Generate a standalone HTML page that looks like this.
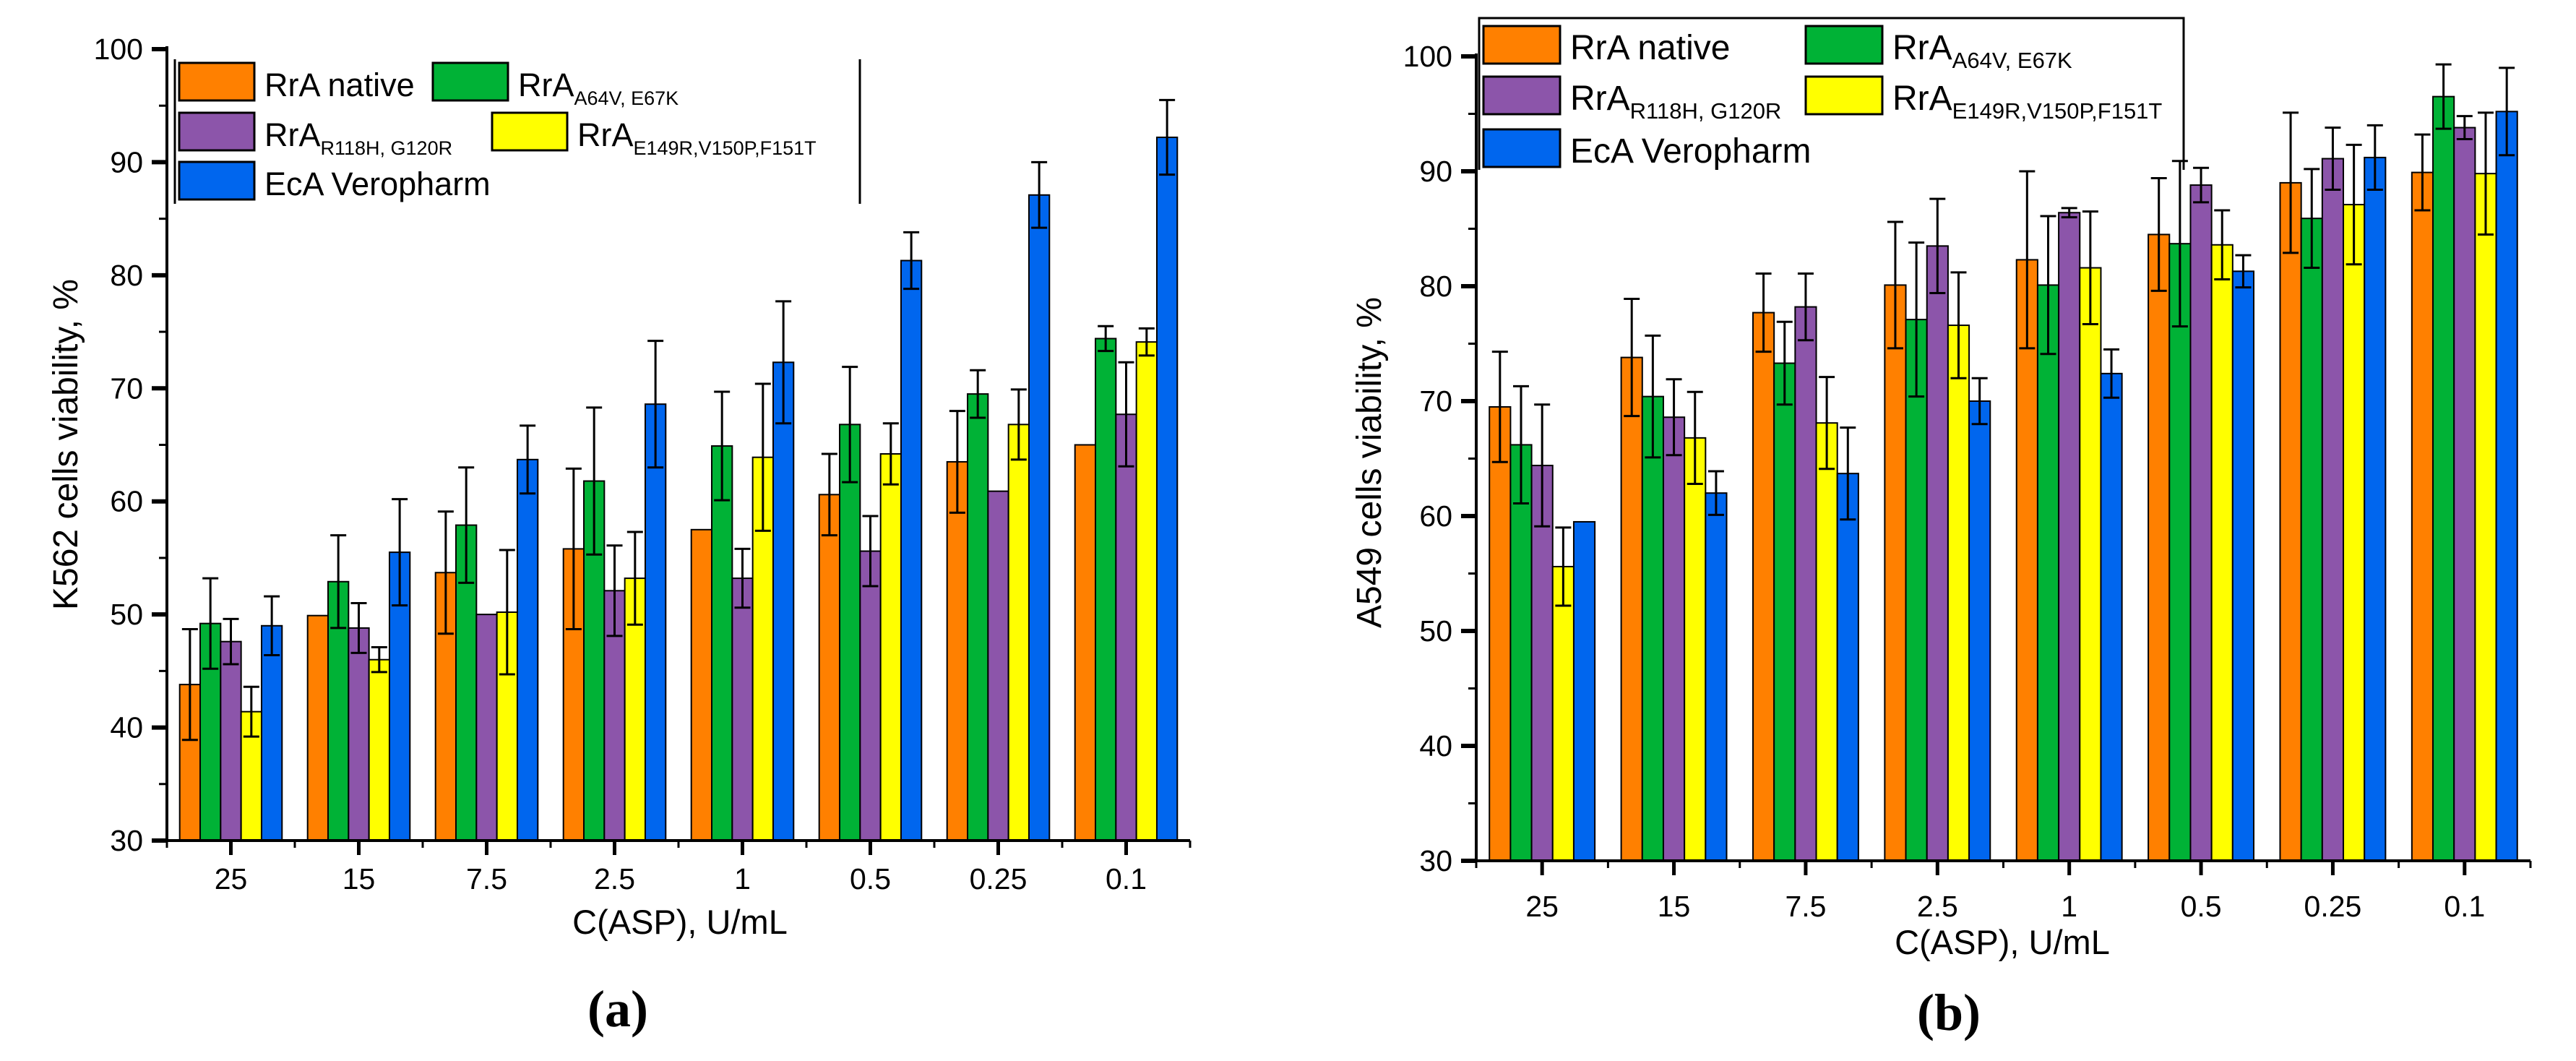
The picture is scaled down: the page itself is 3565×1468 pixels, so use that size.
<!DOCTYPE html>
<html><head><meta charset="utf-8">
<style>
html,body{margin:0;padding:0;background:#fff;}
svg{display:block;font-family:"Liberation Sans",Arial,sans-serif;}
</style></head>
<body>
<svg id="fig" width="3565" height="1468" viewBox="0 0 3565 1468" xmlns="http://www.w3.org/2000/svg"></svg>
<script>
const categories = ["25","15","7.5","2.5","1","0.5","0.25","0.1"];
const seriesNames = ["RrA native","RrA A64V, E67K","RrA R118H, G120R","RrA E149R,V150P,F151T","EcA Veropharm"];
const seriesColors = ["#ff8000","#00b236","#8c55aa","#ffff00","#0066ee"];
const yTicks = [30,40,50,60,70,80,90,100];

// Panel (a) K562
const aOrange = [43.8,49.9,53.7,55.8,57.5,60.6,63.5,65.0];
const aGreen  = [49.2,52.9,57.9,61.8,64.9,66.8,69.5,74.4];
const aPurple = [47.6,48.8,50.0,52.1,53.2,55.6,60.9,67.7];
const aYellow = [41.4,46.0,50.2,53.2,63.9,64.2,66.8,74.1];
const aBlue   = [49.0,55.5,63.7,68.6,72.3,81.3,87.1,92.2];
const aErrOrange = [4.9,0,5.4,7.1,0,3.6,4.5,0];
const aErrGreen  = [4.0,4.1,5.1,6.5,4.8,5.1,2.1,1.1];
const aErrPurple = [2.0,2.2,0,4.0,2.6,3.1,0,4.6];
const aErrYellow = [2.2,1.1,5.5,4.1,6.5,2.7,3.1,1.2];
const aErrBlue   = [2.6,4.7,3.0,5.6,5.4,2.5,2.9,3.3];

// Panel (b) A549
const bOrange = [69.5,73.8,77.7,80.1,82.3,84.5,89.0,89.9];
const bGreen  = [66.2,70.4,73.3,77.1,80.1,83.7,85.9,96.5];
const bPurple = [64.4,68.6,78.2,83.5,86.4,88.8,91.1,93.8];
const bYellow = [55.6,66.8,68.1,76.6,81.6,83.6,87.1,89.8];
const bBlue   = [59.5,62.0,63.7,70.0,72.4,81.3,91.2,95.2];
const bErrOrange = [4.8,5.1,3.4,5.5,7.7,4.9,6.1,3.3];
const bErrGreen  = [5.1,5.3,3.6,6.7,6.0,7.2,4.3,2.8];
const bErrPurple = [5.3,3.3,2.9,4.1,0.4,1.5,2.7,1.0];
const bErrYellow = [3.4,4.0,4.0,4.6,4.9,3.0,5.2,5.3];
const bErrBlue   = [0,1.9,4.0,2.0,2.1,1.4,2.8,3.8];

const NS="http://www.w3.org/2000/svg";
const svg=document.getElementById('fig');
function mk(tag,attrs,parent){const e=document.createElementNS(NS,tag);for(const k in attrs)e.setAttribute(k,attrs[k]);(parent||svg).appendChild(e);return e;}

function drawPanel(p){
  const g=mk('g',{});
  
  
  const yScale=v=>p.y30+(v-30)*(p.y100-p.y30)/70;
  const catW=(p.xEnd-p.x0)/categories.length;
  const xCenter=i=>p.x0+catW*(i+0.5);
  const barW=catW*0.8/5;
  const series=p.series, errs=p.errs;
  series.forEach((vals,s)=>{
    vals.forEach((v,i)=>{
      const x=xCenter(i)-2.5*barW+s*barW;
      const r=mk('rect',{x:x,y:yScale(v),width:barW,height:yScale(30)-yScale(v),fill:seriesColors[s],stroke:'#000','stroke-width':2},g);
      
      
    });
  });
  series.forEach((vals,s)=>{
    vals.forEach((v,i)=>{
      const e=errs[s][i]; if(!e) return;
      const cx=xCenter(i)-2.5*barW+s*barW+barW/2;
      const eg=mk('g',{stroke:'#000','stroke-width':3},g);
      
      
      mk('line',{x1:cx,x2:cx,y1:yScale(v+e),y2:yScale(v-e)},eg);
      mk('line',{x1:cx-11,x2:cx+11,y1:yScale(v+e),y2:yScale(v+e)},eg);
      mk('line',{x1:cx-11,x2:cx+11,y1:yScale(v-e),y2:yScale(v-e)},eg);
    });
  });
  const ax=mk('g',{stroke:'#000','stroke-width':4},g);
  
  
  mk('line',{x1:p.x0,x2:p.x0,y1:yScale(100)-4,y2:yScale(30)+2},ax);
  mk('line',{x1:p.x0-2,x2:p.xEnd,y1:yScale(30),y2:yScale(30)},ax);
  for(let v=30;v<=100;v+=5){
    const major=v%10===0;
    mk('line',{x1:p.x0,x2:p.x0-(major?21:11),y1:yScale(v),y2:yScale(v),'stroke-width':major?6:3},ax);
  }
  for(let i=0;i<=categories.length;i++){
    const xb=p.x0+catW*i;
    mk('line',{x1:xb,x2:xb,y1:yScale(30),y2:yScale(30)+10,'stroke-width':3},ax);
    if(i<categories.length) mk('line',{x1:xCenter(i),x2:xCenter(i),y1:yScale(30),y2:yScale(30)+20,'stroke-width':5},ax);
  }
  yTicks.forEach(v=>{
    const t=mk('text',{x:p.x0-33,y:yScale(v)+14,'text-anchor':'end','font-size':41},g);
    t.textContent=v;
    
    
  });
  categories.forEach((c,i)=>{
    const t=mk('text',{x:xCenter(i),y:p.xLabY,'text-anchor':'middle','font-size':41},g);
    t.textContent=c;
    
    
  });
  const xt=mk('text',{x:p.xTitleX,y:p.xTitleY,'text-anchor':'middle','font-size':47},g);
  xt.textContent='C(ASP), U/mL';
  
  
  const yt=mk('text',{x:0,y:0,'text-anchor':'middle','font-size':48,transform:`translate(${p.yTitleX},${p.yTitleY}) rotate(-90)`},g);
  yt.textContent=p.yTitle;
  
  
  const lab=mk('text',{x:p.labX,y:p.labY,'text-anchor':'middle','font-size':72,'font-weight':'bold','font-family':'"Liberation Serif",serif'},g);
  lab.textContent=p.label;
  
  
  const lg=mk('g',{},g);
  
  
  const L=p.legend;
  if(L.box){
    mk('polyline',{points:`${L.left},${L.bottom} ${L.left},${L.top} ${L.right},${L.top} ${L.right},${L.bottom}`,fill:'none',stroke:'#000','stroke-width':3},lg);
  } else {
    mk('line',{x1:L.left,x2:L.left,y1:L.top,y2:L.bottom,stroke:'#000','stroke-width':3},lg);
    mk('line',{x1:L.right,x2:L.right,y1:L.top,y2:L.bottom,stroke:'#000','stroke-width':3},lg);
  }
  const entries=[
    {s:0,col:0,row:0,main:'RrA native',sub:''},
    {s:1,col:1,row:0,main:'RrA',sub:'A64V, E67K'},
    {s:2,col:0,row:1,main:'RrA',sub:'R118H, G120R'},
    {s:3,col:1,row:1,main:'RrA',sub:'E149R,V150P,F151T'},
    {s:4,col:0,row:2,main:'EcA Veropharm',sub:''}
  ];
  entries.forEach(en=>{
    const eg=mk('g',{},lg);
    
    
    const sx=en.col?L.col2[en.row]:L.col1, sy=L.rowY[en.row];
    mk('rect',{x:sx,y:sy,width:L.sw,height:L.sh,fill:seriesColors[en.s],stroke:'#000','stroke-width':3},eg);
    const t=mk('text',{x:sx+L.sw+14,y:sy+L.sh-6,'font-size':L.fs},eg);
    t.textContent=en.main;
    if(en.sub){const ts=mk('tspan',{'font-size':L.ss,dy:12},t);ts.textContent=en.sub;}
  });
}

drawPanel({id:'k562',x0:231,xEnd:1647,y30:1163,y100:68,xLabY:1230,xTitleX:941,xTitleY:1292,
  yTitleX:107,yTitleY:615,yTitle:'K562 cells viability, %',labX:855,labY:1420,label:'(a)',
  series:[aOrange,aGreen,aPurple,aYellow,aBlue],errs:[aErrOrange,aErrGreen,aErrPurple,aErrYellow,aErrBlue],
  legend:{box:false,left:242,right:1190,top:82,bottom:282,col1:248,col2:[599,681],rowY:[87,156,224],sw:104,sh:52,fs:45,ss:27}});
drawPanel({id:'a549',x0:2043,xEnd:3502,y30:1191,y100:78,xLabY:1268,xTitleX:2771,xTitleY:1320,
  yTitleX:1911,yTitleY:640,yTitle:'A549 cells viability, %',labX:2697,labY:1425,label:'(b)',
  series:[bOrange,bGreen,bPurple,bYellow,bBlue],errs:[bErrOrange,bErrGreen,bErrPurple,bErrYellow,bErrBlue],
  legend:{box:true,left:2047,right:3022,top:25,bottom:235,col1:2053,col2:[2499,2499],rowY:[36,106,179],sw:106,sh:52,fs:48,ss:31}});
</script>
</body></html>
